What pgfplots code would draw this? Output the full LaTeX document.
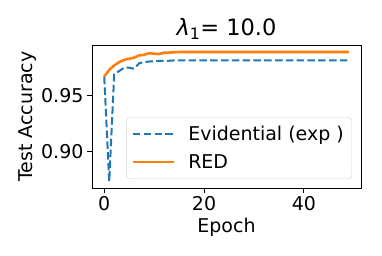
\documentclass[border=0pt]{standalone}
\usepackage{pgfplots}
\pgfplotsset{compat=1.18}
\usepackage{fontspec}
\setmainfont{DejaVu Sans}
\definecolor{tabblue}{HTML}{1F77B4}
\definecolor{taborange}{HTML}{FF7F0E}
\begin{document}
\begin{tikzpicture}[x=1pt,y=1pt]
\useasboundingbox (0,0) rectangle (382,255);
\begin{axis}[
  at={(92pt,67pt)}, anchor=south west,
  width=269pt, height=143pt, scale only axis,
  xmin=-2.45, xmax=51.45,
  ymin=0.8672, ymax=0.9953,
  xtick={0,20,40}, ytick={0.90,0.95},
  yticklabel style={/pgf/number format/fixed,/pgf/number format/fixed zerofill,/pgf/number format/precision=2},
  /pgf/number format/assume math mode=true,
  tick label style={font=\fontsize{19}{22}\selectfont},
  label style={font=\fontsize{19}{22}\selectfont},
  xlabel={Epoch}, ylabel={Test Accuracy},
  ylabel style={yshift=-2pt},
  title={\textit{λ}\textsubscript{1}= 10.0},
  title style={font=\fontsize{22.5}{26}\selectfont, yshift=-4pt},
  tick align=outside, xtick pos=left, ytick pos=left,
  major tick length=5pt,
  every tick/.style={black, line width=0.9pt},
  axis line style={line width=0.9pt},
  legend style={at={(0.9665,0.063)}, anchor=south east, font=\fontsize{19}{22}\selectfont,
    draw=black!18, rounded corners=3pt, fill=white, row sep=6pt,
    inner xsep=5pt, inner ysep=6pt, nodes={inner xsep=3pt, inner ysep=3pt}},
  legend cell align=left,
  legend image code/.code={\draw[#1] (0pt,0pt) -- (41pt,0pt); \path (51pt,0pt);},
]
\addplot[tabblue, line width=2pt, dash pattern=on 7.5pt off 3.3pt] coordinates {
(0,0.967) (1,0.873) (2,0.969) (3,0.972) (4,0.975) (5,0.975) (6,0.974) (7,0.979) (8,0.980) (9,0.9805)
(10,0.9808) (11,0.981) (12,0.981) (13,0.9812) (14,0.9815) (15,0.9815) (16,0.9815) (17,0.9815) (18,0.9815) (19,0.9815)
(20,0.9815) (21,0.9815) (22,0.9815) (23,0.9815) (24,0.9815) (25,0.9815) (26,0.9815) (27,0.9815) (28,0.9815) (29,0.9815)
(30,0.9815) (31,0.9815) (32,0.9815) (33,0.9815) (34,0.9815) (35,0.9815) (36,0.9815) (37,0.9815) (38,0.9815) (39,0.9815)
(40,0.9815) (41,0.9815) (42,0.9815) (43,0.9815) (44,0.9815) (45,0.9815) (46,0.9815) (47,0.9815) (48,0.9815) (49,0.9815)
};
\addlegendentry{Evidential (exp )}
\addplot[taborange, line width=2.6pt] coordinates {
(0,0.967) (1,0.973) (2,0.977) (3,0.980) (4,0.982) (5,0.983) (6,0.984) (7,0.986) (8,0.9865) (9,0.988)
(10,0.9875) (11,0.9872) (12,0.9885) (13,0.9885) (14,0.9888) (15,0.989) (16,0.989) (17,0.989) (18,0.989) (19,0.989)
(20,0.989) (21,0.989) (22,0.989) (23,0.989) (24,0.989) (25,0.989) (26,0.989) (27,0.989) (28,0.989) (29,0.989)
(30,0.989) (31,0.989) (32,0.989) (33,0.989) (34,0.989) (35,0.989) (36,0.989) (37,0.989) (38,0.989) (39,0.989)
(40,0.989) (41,0.989) (42,0.989) (43,0.989) (44,0.989) (45,0.989) (46,0.989) (47,0.989) (48,0.989) (49,0.989)
};
\addlegendentry{RED}
\end{axis}
\end{tikzpicture}
\end{document}
